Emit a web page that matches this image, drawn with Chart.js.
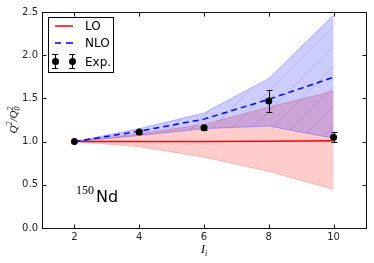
<!DOCTYPE html>
<html>
<head>
<meta charset="utf-8">
<script src="https://cdn.jsdelivr.net/npm/chart.js@4.4.0/dist/chart.umd.min.js"></script>
<style>
html, body { margin: 0; padding: 0; background: #fff; }
#wrap { position: relative; width: 374px; height: 263px; }
#legend { position: absolute; left: 48px; top: 17px; width: 64px; height: 54px; border: 1px solid #000; background: #fff; font: 12px "DejaVu Sans"; color: #000; }
#legend .txt { position: absolute; left: 36px; height: 14px; line-height: 14px; }
#legend .ln { position: absolute; height: 2px; }
#legend .dot { position: absolute; width: 7px; height: 7px; border-radius: 50%; background: #000; }
#legend .eb { position: absolute; width: 1px; background: #000; }
#legend .cap { position: absolute; height: 1px; width: 6px; background: #000; }
.note { position: absolute; color: #000; white-space: nowrap; }
.ytitle { position: absolute; left: 13px; top: 120px; transform: translate(-50%, -50%) rotate(-90deg); font: italic 11px "Liberation Serif"; white-space: nowrap; }
.xtitle { position: absolute; left: 204px; top: 250px; transform: translate(-50%, -50%); font: italic 12px "Liberation Serif"; white-space: nowrap; }
.stack { display: inline-block; vertical-align: middle; line-height: 7px; font-size: 8px; text-align: left; }
.stack span { display: block; }
</style>
</head>
<body>
<div id="wrap">
  <canvas id="ratioChart" width="374" height="263"></canvas>

  <div id="legend">
    <div class="ln" style="left:6px; top:7px; width:18px; background:#ff3b3b;"></div>
    <div class="txt" style="top:1px;">LO</div>

    <div class="ln" style="left:6px; top:24px; width:6px; background:#3b3bff;"></div>
    <div class="ln" style="left:17px; top:24px; width:7px; background:#3b3bff;"></div>
    <div class="txt" style="top:18px;">NLO</div>

    <div class="eb" style="left:6px; top:36px; height:15px;"></div>
    <div class="cap" style="left:3px; top:36px;"></div>
    <div class="cap" style="left:3px; top:50px;"></div>
    <div class="dot" style="left:3px; top:40px;"></div>
    <div class="eb" style="left:23px; top:36px; height:15px;"></div>
    <div class="cap" style="left:20px; top:36px;"></div>
    <div class="cap" style="left:20px; top:50px;"></div>
    <div class="dot" style="left:20px; top:40px;"></div>
    <div class="txt" style="top:37px;">Exp.</div>
  </div>

  <div class="note" style="left:76px; top:184px; font:12px 'Liberation Serif'; line-height:12px;">150</div>
  <div class="note" style="left:96px; top:189px; font:16px 'DejaVu Sans'; line-height:16px;">Nd</div>

  <div class="ytitle">Q<sup style="font-size:8px">2</sup>/Q<span class="stack"><span>2</span><span>0</span></span></div>
  <div class="xtitle">I<sub style="font-size:8px">i</sub></div>
</div>

<script>
const xs = [2, 4, 6, 8, 10];
const loCentral = [1.0, 1.0, 1.0, 1.005, 1.01];
const loUpper = [1.0, 1.09, 1.2, 1.4, 1.585];
const loLower = [1.0, 0.94, 0.82, 0.655, 0.447];
const nloCentral = [1.0, 1.12, 1.26, 1.49, 1.745];
const nloUpper = [1.0, 1.15, 1.33, 1.73, 2.465];
const nloLower = [1.0, 1.07, 1.15, 1.18, 1.04];
const expValues = [1.0, 1.11, 1.16, 1.47, 1.05];
const expErrors = [0.0, 0.02, 0.02, 0.13, 0.06];
const xTicks = [2, 4, 6, 8, 10];
const yTicks = [0.0, 0.5, 1.0, 1.5, 2.0, 2.5];

function pts(ys) {
    return xs.map((x, i) => ({ x: x, y: ys[i] }));
}

// blue band fill with faint diagonal seams
function hatch() {
    let c = document.createElement('canvas');
    c.width = 20; c.height = 20;
    let g = c.getContext('2d');
    g.fillStyle = 'rgba(0,0,255,0.2)';
    g.fillRect(0, 0, 20, 20);
    g.strokeStyle = 'rgba(0,0,255,0.13)';
    g.lineWidth = 1;
    g.beginPath();
    g.moveTo(0, 20); g.lineTo(20, 0);
    g.moveTo(-1, 1); g.lineTo(1, -1);
    g.moveTo(19, 21); g.lineTo(21, 19);
    g.stroke();
    return g.createPattern(c, 'repeat');
}

const errorBars = {
    id: 'errorBars',
    beforeDatasetDraw(chart, args) {
        if (args.index !== 0) return;
        let ctx = chart.ctx, sx = chart.scales.x, sy = chart.scales.y;
        ctx.save();
        ctx.strokeStyle = '#000';
        ctx.lineWidth = 1;
        ctx.beginPath();
        xs.forEach((x, i) => {
            if (!expErrors[i]) return;
            let px = Math.round(sx.getPixelForValue(x)) + 0.5;
            let t = Math.round(sy.getPixelForValue(expValues[i] + expErrors[i])) + 0.5;
            let b = Math.round(sy.getPixelForValue(expValues[i] - expErrors[i])) + 0.5;
            ctx.moveTo(px, t); ctx.lineTo(px, b);
            ctx.moveTo(px - 3, t); ctx.lineTo(px + 3, t);
            ctx.moveTo(px - 3, b); ctx.lineTo(px + 3, b);
        });
        ctx.stroke();
        ctx.restore();
    }
};

const frame = {
    id: 'frame',
    afterDraw(chart) {
        let a = chart.chartArea, ctx = chart.ctx, sx = chart.scales.x, sy = chart.scales.y;
        let l = Math.round(a.left) + 0.5, r = Math.round(a.right) + 0.5;
        let t = Math.round(a.top) + 0.5, b = Math.round(a.bottom) + 0.5;
        ctx.save();
        ctx.strokeStyle = '#111';
        ctx.lineWidth = 1;
        ctx.strokeRect(l, t, r - l, b - t);
        ctx.beginPath();
        xTicks.forEach(v => {
            let px = Math.round(sx.getPixelForValue(v)) + 0.5;
            ctx.moveTo(px, b); ctx.lineTo(px, b - 4);
            ctx.moveTo(px, t); ctx.lineTo(px, t + 4);
        });
        yTicks.forEach(v => {
            let py = Math.round(sy.getPixelForValue(v)) + 0.5;
            ctx.moveTo(l, py); ctx.lineTo(l + 4, py);
            ctx.moveTo(r, py); ctx.lineTo(r - 4, py);
        });
        ctx.stroke();
        ctx.restore();
    }
};

let ctx = document.getElementById('ratioChart').getContext('2d');

var ratioChart = new Chart(ctx, {
    type: 'line',
    data: {
        datasets: [{
            label: 'Exp.',
            data: pts(expValues),
            showLine: false,
            pointRadius: 3.5,
            pointBackgroundColor: '#000',
            pointBorderColor: '#000',
            pointBorderWidth: 0
        }, {
            label: 'NLO',
            data: pts(nloCentral),
            borderColor: '#0000ff',
            borderDash: [6, 4],
            borderWidth: 1.5,
            pointRadius: 0,
            fill: false
        }, {
            label: 'LO',
            data: pts(loCentral),
            borderColor: '#ff0000',
            borderWidth: 1.5,
            pointRadius: 0,
            fill: false
        }, {
            label: 'NLO upper',
            data: pts(nloUpper),
            borderColor: 'rgba(0,0,255,0.25)',
            borderWidth: 1,
            pointRadius: 0,
            backgroundColor: hatch(),
            fill: '+1'
        }, {
            label: 'NLO lower',
            data: pts(nloLower),
            borderColor: 'rgba(0,0,255,0.25)',
            borderWidth: 1,
            pointRadius: 0,
            fill: false
        }, {
            label: 'LO upper',
            data: pts(loUpper),
            borderColor: 'rgba(255,0,0,0.2)',
            borderWidth: 1,
            pointRadius: 0,
            backgroundColor: 'rgba(255,0,0,0.2)',
            fill: '+1'
        }, {
            label: 'LO lower',
            data: pts(loLower),
            borderColor: 'rgba(255,0,0,0.2)',
            borderWidth: 1,
            pointRadius: 0,
            fill: false
        }]
    },
    options: {
        responsive: false,
        animation: false,
        layout: { padding: { top: 12, right: 8, left: 0, bottom: 0 } },
        plugins: {
            legend: { display: false },
            tooltip: { enabled: false }
        },
        scales: {
            x: {
                type: 'linear',
                min: 1,
                max: 11,
                afterBuildTicks: s => { s.ticks = xTicks.map(v => ({ value: v })); },
                afterFit: s => { s.height = 35; },
                grid: { display: false, drawTicks: false },
                border: { display: false },
                ticks: {
                    color: '#222',
                    padding: 3,
                    font: { family: 'DejaVu Sans', size: 10 },
                    callback: v => String(v)
                }
            },
            y: {
                min: 0,
                max: 2.5,
                afterBuildTicks: s => { s.ticks = yTicks.map(v => ({ value: v })); },
                afterFit: s => { s.width = 42; },
                grid: { display: false, drawTicks: false },
                border: { display: false },
                ticks: {
                    color: '#222',
                    padding: 4,
                    font: { family: 'DejaVu Sans', size: 10 },
                    callback: v => v.toFixed(1)
                }
            }
        }
    },
    plugins: [errorBars, frame]
});
</script>
</body>
</html>
